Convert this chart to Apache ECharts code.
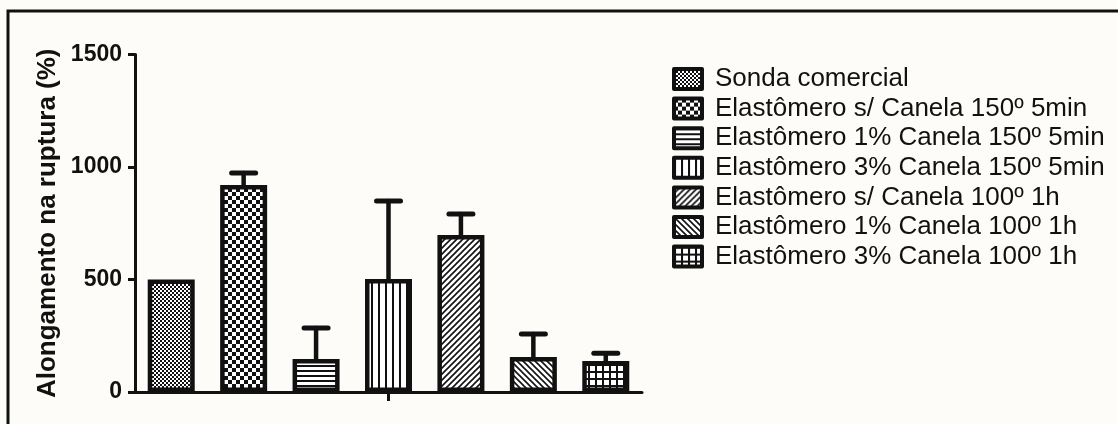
<!DOCTYPE html>
<html>
<head>
<meta charset="utf-8">
<script src="https://cdn.jsdelivr.net/npm/echarts@6/dist/echarts.min.js"></script>
<style>
  html, body { margin: 0; padding: 0; background: #fdfcf8; }
  #chart { width: 1118px; height: 424px; }
</style>
</head>
<body>
<div id="chart"></div>
<script>
// grupos (um por barra / item de legenda)
var groups = [
  'Sonda comercial',
  'Elastômero s/ Canela 150º 5min',
  'Elastômero 1% Canela 150º 5min',
  'Elastômero 3% Canela 150º 5min',
  'Elastômero s/ Canela 100º 1h',
  'Elastômero 1% Canela 100º 1h',
  'Elastômero 3% Canela 100º 1h'
]
// alongamento na ruptura (%) - media e desvio
var means = [500, 920, 147, 502, 698, 156, 138]
var sds = [0, 53, 137, 347, 93, 102, 34]
var yTicks = [0, 500, 1000, 1500]

var patternKinds = ['fine', 'checker', 'hlines', 'vlines', 'diagUp', 'diagDown', 'grid']

function makePattern (kind) {
  var c = document.createElement('canvas')
  var s = 8
  if (kind === 'fine') s = 4
  if (kind === 'hlines') s = 5
  if (kind === 'vlines') s = 7
  if (kind === 'diagUp' || kind === 'diagDown') s = 6
  if (kind === 'grid') s = 7
  c.width = s
  c.height = s
  var ctx = c.getContext('2d')
  ctx.fillStyle = '#ffffff'
  ctx.fillRect(0, 0, s, s)
  ctx.fillStyle = '#111111'
  ctx.strokeStyle = '#111111'
  if (kind === 'fine') {
    ctx.fillRect(0, 0, 2, 2)
    ctx.fillRect(2, 2, 2, 2)
  } else if (kind === 'checker') {
    ctx.fillRect(0, 0, 4, 4)
    ctx.fillRect(4, 4, 4, 4)
  } else if (kind === 'hlines') {
    ctx.fillRect(0, 0, s, 2)
  } else if (kind === 'vlines') {
    ctx.fillRect(0, 0, 2, s)
  } else if (kind === 'grid') {
    ctx.fillRect(0, 0, s, 2)
    ctx.fillRect(0, 0, 2, s)
  } else {
    ctx.lineWidth = 1.6
    ctx.beginPath()
    if (kind === 'diagUp') {
      ctx.moveTo(0, s); ctx.lineTo(s, 0)
      ctx.moveTo(-1, 1); ctx.lineTo(1, -1)
      ctx.moveTo(s - 1, s + 1); ctx.lineTo(s + 1, s - 1)
    } else {
      ctx.moveTo(0, 0); ctx.lineTo(s, s)
      ctx.moveTo(-1, s - 1); ctx.lineTo(1, s + 1)
      ctx.moveTo(s - 1, -1); ctx.lineTo(s + 1, 1)
    }
    ctx.stroke()
  }
  return { image: c, repeat: 'repeat' }
}

var font = "'Liberation Sans', Arial, sans-serif"
var series = []
groups.forEach(function (name, i) {
  var data = groups.map(function (g, j) { return j === i ? means[i] : '-' })
  series.push({
    name: name,
    type: 'bar',
    data: data,
    barWidth: 47,
    barGap: '-100%',
    itemStyle: {
      color: makePattern(patternKinds[i]),
      borderColor: '#111',
      borderWidth: 4.5
    }
  })
})

var errData = []
means.forEach(function (m, i) {
  if (sds[i] > 0) errData.push([i, m, m + sds[i]])
})

series.push({
  type: 'custom',
  name: 'erro',
  data: errData,
  encode: { x: 0, y: [1, 2] },
  z: 5,
  renderItem: function (params, api) {
    var base = api.coord([api.value(0), api.value(1)])
    var top = api.coord([api.value(0), api.value(2)])
    var style = { stroke: '#111', lineWidth: 4.5, lineCap: 'round' }
    return {
      type: 'group',
      children: [
        { type: 'line', shape: { x1: top[0], y1: base[1], x2: top[0], y2: top[1] }, style: style },
        { type: 'line', shape: { x1: top[0] - 12, y1: top[1], x2: top[0] + 12, y2: top[1] }, style: { stroke: '#111', lineWidth: 5, lineCap: 'round' } }
      ]
    }
  }
})

var chart = echarts.init(document.getElementById('chart'))
chart.setOption({
  backgroundColor: '#fdfcf8',
  animation: false,
  grid: { left: 135, right: 476, top: 54.5, bottom: 32 },
  graphic: [{
    type: 'rect',
    shape: { x: 8, y: 11, width: 1130, height: 440 },
    style: { fill: 'none', stroke: '#111', lineWidth: 3 },
    silent: true
  }],
  legend: {
    data: groups,
    orient: 'vertical',
    left: 667,
    top: 61,
    itemWidth: 28,
    itemHeight: 20,
    itemGap: 3.6,
    icon: 'rect',
    itemStyle: { borderColor: '#111', borderWidth: 4, borderJoin: 'round' },
    textStyle: {
      fontFamily: font,
      fontSize: 26,
      color: '#111',
      padding: [0, 0, 0, 8]
    }
  },
  xAxis: {
    type: 'category',
    data: groups,
    boundaryGap: true,
    axisLine: { lineStyle: { color: '#111', width: 3 } },
    axisTick: {
      show: true,
      alignWithLabel: true,
      customValues: [3],
      length: 9,
      lineStyle: { color: '#111', width: 3 }
    },
    axisLabel: { show: false },
    splitLine: { show: false }
  },
  yAxis: {
    type: 'value',
    min: yTicks[0],
    max: yTicks[yTicks.length - 1],
    interval: yTicks[1] - yTicks[0],
    name: 'Alongamento na ruptura (%)',
    nameLocation: 'middle',
    nameGap: 74,
    nameTextStyle: { fontFamily: font, fontSize: 26, fontWeight: 'bold', color: '#111' },
    axisLine: { show: true, lineStyle: { color: '#111', width: 3 } },
    axisTick: { show: true, length: 7, lineStyle: { color: '#111', width: 3 } },
    axisLabel: {
      fontFamily: font,
      fontSize: 23,
      fontWeight: 'bold',
      color: '#111',
      margin: 13,
      formatter: function (v) { return String(v) }
    },
    splitLine: { show: false }
  },
  series: series
})
</script>
</body>
</html>
